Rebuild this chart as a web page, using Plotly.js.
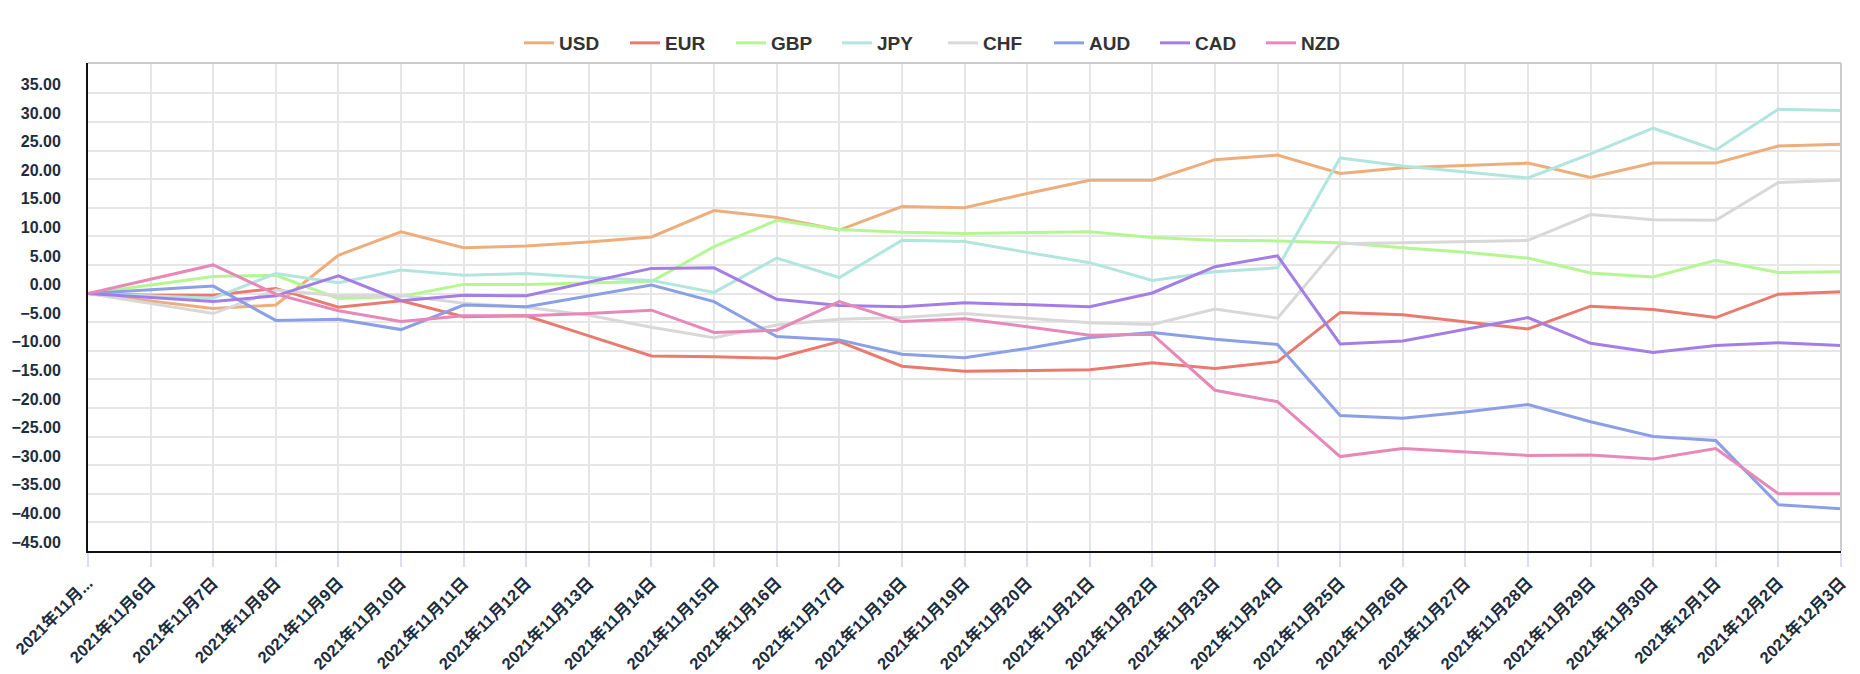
<!DOCTYPE html>
<html>
<head>
<meta charset="utf-8">
<script src="https://cdn.plot.ly/plotly-3.0.1.min.js"></script>
<style>
  html, body { margin: 0; padding: 0; background: #ffffff; }
  #chart { width: 1860px; height: 674px; }
</style>
</head>
<body>
<div id="chart"></div>
<script>
// ---- data ----
const dates = [
  "2021年11月5日", "2021年11月6日", "2021年11月7日", "2021年11月8日", "2021年11月9日",
  "2021年11月10日", "2021年11月11日", "2021年11月12日", "2021年11月13日", "2021年11月14日",
  "2021年11月15日", "2021年11月16日", "2021年11月17日", "2021年11月18日", "2021年11月19日",
  "2021年11月20日", "2021年11月21日", "2021年11月22日", "2021年11月23日", "2021年11月24日",
  "2021年11月25日", "2021年11月26日", "2021年11月27日", "2021年11月28日", "2021年11月29日",
  "2021年11月30日", "2021年12月1日", "2021年12月2日", "2021年12月3日"
];
const dateLabels = ["2021年11月..."].concat(dates.slice(1));

const seriesNames = ["USD", "EUR", "GBP", "JPY", "CHF", "AUD", "CAD", "NZD"];

const usd = [0, -1.3, -2.6, -2.0, 6.7, 10.8, 8.0, 8.3, 9.0, 9.9, 14.5, 13.3, 11.1, 15.2, 15.0,
             17.5, 19.8, 19.8, 23.4, 24.2, 21.0, 22.0, 22.4, 22.8, 20.3, 22.8, 22.8, 25.8, 26.1];
const eur = [0, -0.3, -0.3, 0.9, -2.4, -1.25, -4.05, -3.9, -7.4, -10.9, -11.05, -11.3, -8.4, -12.7, -13.6,
             -13.4, -13.3, -12.1, -13.1, -11.9, -3.3, -3.7, -4.9, -6.2, -2.2, -2.8, -4.2, -0.1, 0.3];
const gbp = [0, 1.5, 3.0, 3.2, -0.85, -0.5, 1.6, 1.6, 1.9, 2.1, 8.2, 12.8, 11.2, 10.7, 10.5,
             10.7, 10.8, 9.8, 9.3, 9.2, 8.9, 8.0, 7.2, 6.2, 3.6, 2.9, 5.8, 3.7, 3.8];
const jpy = [0, -0.4, -0.8, 3.5, 1.9, 4.1, 3.2, 3.5, 2.8, 2.3, 0.2, 6.2, 2.8, 9.3, 9.1,
             7.2, 5.4, 2.3, 3.8, 4.5, 23.7, 22.3, 21.3, 20.2, 24.4, 28.9, 25.1, 32.2, 32.0];
const chf = [0, -1.7, -3.5, 0.6, -0.4, -0.3, -1.7, -2.4, -3.8, -5.9, -7.7, -5.5, -4.5, -4.2, -3.5,
             -4.3, -5.1, -5.4, -2.7, -4.3, 8.7, 8.9, 9.1, 9.3, 13.8, 12.9, 12.8, 19.4, 19.8];
const aud = [0, 0.7, 1.3, -4.7, -4.5, -6.3, -2.0, -2.3, -0.4, 1.5, -1.4, -7.5, -8.1, -10.6, -11.2,
             -9.6, -7.7, -6.8, -8.0, -8.9, -21.3, -21.8, -20.7, -19.4, -22.4, -25.0, -25.7, -36.9, -37.6];
const cad = [0, -0.7, -1.4, -0.4, 3.1, -1.25, -0.3, -0.4, 2.0, 4.4, 4.5, -1.0, -2.1, -2.3, -1.6,
             -1.9, -2.3, 0.1, 4.7, 6.6, -8.8, -8.3, -6.3, -4.2, -8.7, -10.3, -9.1, -8.6, -9.1];
const nzd = [0, 2.5, 5.0, -0.1, -3.0, -4.9, -3.9, -3.9, -3.5, -2.9, -6.8, -6.4, -1.4, -4.9, -4.4,
             -5.8, -7.3, -7.1, -16.9, -18.9, -28.5, -27.1, -27.7, -28.3, -28.2, -28.9, -27.1, -35.0, -35.0];

const seriesValues = [usd, eur, gbp, jpy, chf, aud, cad, nzd];
const seriesColors = ["#eeae7b", "#e87b6e", "#b4f792", "#b0e6dd", "#d8d8d8", "#8a9fe6", "#a47ee4", "#e788b9"];

const yTicks = [-45, -40, -35, -30, -25, -20, -15, -10, -5, 0, 5, 10, 15, 20, 25, 30, 35];

// ---- traces ----
const traces = seriesNames.map((name, k) => ({
  type: "scatter",
  mode: "lines",
  name: name,
  x: dates,
  y: seriesValues[k],
  line: { color: seriesColors[k], width: 3 },
  hoverinfo: "x+y+name"
}));

const tickFont = { family: "Liberation Sans, Noto Sans CJK SC, Arial, sans-serif", size: 16, color: "#1c2c3d", weight: "bold" };

const layout = {
  width: 1860,
  height: 674,
  margin: { l: 88, r: 19, t: 63, b: 123, pad: 0 },
  paper_bgcolor: "#ffffff",
  plot_bgcolor: "#ffffff",
  showlegend: true,
  legend: {
    orientation: "h",
    xref: "container",
    yref: "container",
    x: 0.5 + 13 / 1860,
    xanchor: "center",
    y: 1 - 43 / 674,
    yanchor: "middle",
    entrywidth: 61,
    entrywidthmode: "pixels",
    font: { family: "Liberation Sans, Arial, sans-serif", size: 19, color: "#333333", weight: "bold" },
    bgcolor: "rgba(0,0,0,0)",
    borderwidth: 0
  },
  xaxis: {
    type: "category",
    range: [0, dates.length - 1],
    tickmode: "array",
    tickvals: dates,
    ticktext: dateLabels,
    tickangle: -45,
    tickfont: Object.assign({}, tickFont, { size: 16.5 }),
    showgrid: true,
    gridcolor: "#e6e6e6",
    gridwidth: 1.5,
    showline: true,
    linecolor: "#111111",
    linewidth: 2,
    ticks: "outside",
    ticklen: 14,
    tickwidth: 1.5,
    tickcolor: "#d9dff0",
    zeroline: false,
    fixedrange: true
  },
  yaxis: {
    range: [-45, 40.3],
    tickmode: "array",
    tickvals: yTicks,
    tickformat: ".2f",
    tickfont: tickFont,
    showgrid: true,
    gridcolor: "#e6e6e6",
    gridwidth: 1.5,
    showline: true,
    linecolor: "#111111",
    linewidth: 2,
    ticks: "",
    ticklabelstandoff: 22,
    ticklabelshift: -9,
    zeroline: false,
    fixedrange: true
  },
  shapes: [
    { type: "line", xref: "paper", yref: "paper", x0: 0, x1: 1, y0: 1, y1: 1,
      line: { color: "#cccccc", width: 2 } },
    { type: "line", xref: "paper", yref: "paper", x0: 1, x1: 1, y0: 0, y1: 1,
      line: { color: "#cccccc", width: 2 } }
  ]
};

Plotly.newPlot("chart", traces, layout, { displayModeBar: false, responsive: false });
</script>
</body>
</html>
